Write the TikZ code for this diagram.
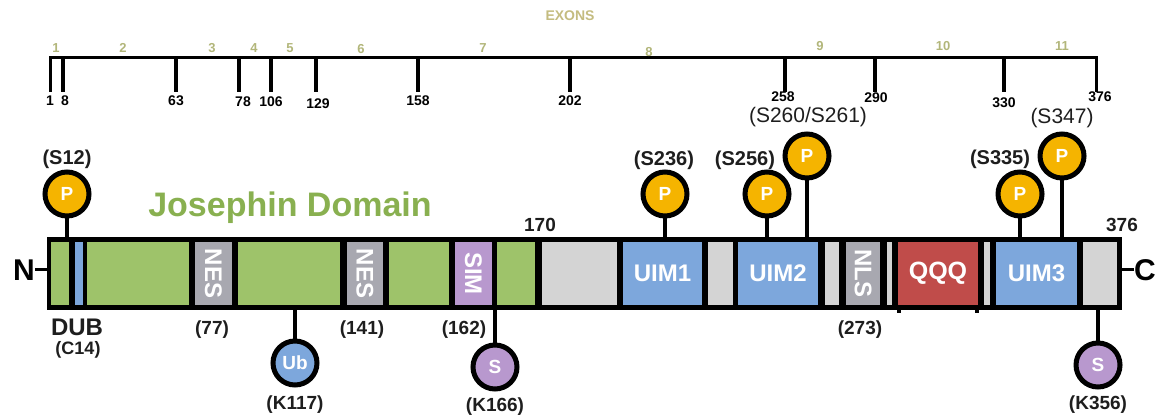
\documentclass[tikz,border=0pt]{standalone}
\usepackage{fontspec}
\setmainfont{Liberation Sans}
\newcommand\FS[1]{\fontsize{#1}{#1}\selectfont}
\definecolor{bargreen}{RGB}{158,195,106}
\definecolor{josgreen}{RGB}{137,176,80}
\definecolor{uimblue}{RGB}{125,167,220}
\definecolor{ltgray}{RGB}{212,212,212}
\definecolor{nesgray}{RGB}{168,168,176}
\definecolor{simpurple}{RGB}{184,152,206}
\definecolor{qqqred}{RGB}{192,76,74}
\definecolor{pgold}{RGB}{245,180,0}
\definecolor{exoncol}{RGB}{178,182,122}
\definecolor{exonscol}{RGB}{196,188,128}
\definecolor{txtdark}{RGB}{30,30,30}
\newcommand\Seg[4]{\node[segbox=#3, minimum width={#2-#1}] (#4) at ({(#1+#2)/2},273.5) {};}
\begin{document}
\begin{tikzpicture}[x=1pt,y=-1pt,
  segbox/.style={fill=#1, draw=none, minimum height=63pt, inner sep=0pt, outer sep=0pt},
  boxtxt/.style={text=white, font=\bfseries\FS{24}, inner sep=0pt},
  vtxt/.style={boxtxt, rotate=-90},
  site/.style={circle, draw=black, line width=5pt, fill=#1, minimum size=44pt, inner sep=0pt, text=white, font=\bfseries\FS{19}},
  stem/.style={line width=4.5pt, black},
  lab/.style={text=txtdark, font=\bfseries\FS{19}, inner sep=0pt},
  labr/.style={text=txtdark, font=\FS{21}, inner sep=0pt},
  ticklab/.style={text=black, font=\bfseries\FS{14}, inner sep=0pt},
  exonlab/.style={text=exoncol, font=\bfseries\FS{13}, inner sep=0pt},
  rulerline/.style={line width=3pt, black, line join=miter},
  tickline/.style={line width=3.5pt, black}
]
\useasboundingbox (0,0) rectangle (1158,419);

% ---- exon ruler ----
\node[text=exonscol, font=\bfseries\FS{14}, inner sep=0pt] (exons) at (570,16) {EXONS};
\coordinate (rL) at (50,58);
\coordinate (rR) at (1096,58);
\draw[rulerline] (50,92) -- (rL) -- (rR) -- (1096,92);
\foreach \x in {63,176,239,271,316,418,570,785,875,1004}
  \draw[tickline] (\x,58) -- (\x,92);
\foreach \x/\t/\y in {50/1/101, 65/8/101, 176/63/101, 243/78/102, 271/106/102, 318/129/104, 418/158/101, 570/202/101, 783/258/97, 876/290/98, 1004/330/103, 1100/376/97}
  \node[ticklab] (tl\t) at (\x,\y) {\t};
\foreach \x/\t/\y in {56/1/48, 123/2/48, 212/3/48, 254/4/48, 290/5/48, 361/6/49, 483/7/48, 649/8/52, 820/9/46, 943/10/46, 1062/11/46}
  \node[exonlab] (ex\t) at (\x,\y) {\t};

% ---- protein bar ----
\node[fill=black, minimum width=1075pt, minimum height=73pt, inner sep=0pt, outer sep=0pt] (bar) at (584.5,273.5) {};
\Seg{51}{69}{bargreen}{g1}
\Seg{75}{83}{uimblue}{dub}
\Seg{87}{189}{bargreen}{g2}
\Seg{195}{232}{nesgray}{nes1}
\Seg{238}{340}{bargreen}{g3}
\Seg{347}{383}{nesgray}{nes2}
\Seg{389}{449}{bargreen}{g4}
\Seg{455}{492}{simpurple}{sim}
\Seg{497}{535}{bargreen}{g5}
\Seg{542}{617}{ltgray}{y1}
\Seg{623}{702}{uimblue}{uim1}
\Seg{708}{733}{ltgray}{y2}
\Seg{738}{818}{uimblue}{uim2}
\Seg{825}{839}{ltgray}{y3}
\Seg{846}{880}{nesgray}{nls}
\Seg{887}{892}{ltgray}{y4}
\Seg{898}{978}{qqqred}{qqq}
\Seg{984}{990}{ltgray}{y5}
\Seg{996}{1077}{uimblue}{uim3}
\Seg{1083}{1117}{ltgray}{y6}
\fill[black] (897,310) rectangle (901,312.5);
\fill[black] (975,310) rectangle (979,312.5);

\node[vtxt] at (nes1) {NES};
\node[vtxt] at (nes2) {NES};
\node[vtxt] at (sim) {SIM};
\node[vtxt] at (nls) {NLS};
\node[boxtxt] at (uim1) {UIM1};
\node[boxtxt] at (uim2) {UIM2};
\node[boxtxt] at (uim3) {UIM3};
\node[boxtxt, font=\bfseries\FS{25}] at (qqq) {QQQ};

\node[text=josgreen, font=\bfseries\FS{34}, inner sep=0pt] (jos) at (290,208) {Josephin Domain};

% N and C termini
\node[font=\bfseries\FS{30}, inner sep=0pt] (nterm) at (24,270) {N};
\node[font=\bfseries\FS{30}, inner sep=0pt] (cterm) at (1145,270) {C};
\draw[line width=3pt] (nterm.east) -- (nterm.east -| bar.west);
\draw[line width=3pt] (cterm.west) -- (cterm.west -| bar.east);

\node[lab] (n170) at (540,225) {170};
\node[lab] (n376) at (1122,225) {376};

% ---- phosphorylation sites ----
\node[site=pgold] (p12) at (67,194) {P};
\node[site=pgold] (p236) at (665,194) {P};
\node[site=pgold] (p256) at (767,194) {P};
\node[site=pgold] (p260) at (807,156) {P};
\node[site=pgold] (p335) at (1020,194) {P};
\node[site=pgold] (p347) at (1062,156) {P};
\foreach \p in {p12,p236,p256,p260,p335,p347}
  \draw[stem] (\p.south) -- (\p.south |- bar.north);

\node[lab, font=\bfseries\FS{20}] (l12) at (67,159) {(S12)};
\node[lab, font=\bfseries\FS{20}] (l236) at (664,160) {(S236)};
\node[lab, font=\bfseries\FS{20}] (l256) at (745,160) {(S256)};
\node[labr] (l260) at (808,117) {(S260/S261)};
\node[lab, font=\bfseries\FS{20}] (l335) at (1000,159) {(S335)};
\node[labr] (l347) at (1062,118) {(S347)};

% ---- below the bar ----
\node[site=uimblue] (ub) at (295,363) {Ub};
\node[site=simpurple] (s166) at (495,367) {S};
\node[site=simpurple] (s356) at (1098,365) {S};
\foreach \p in {ub,s166,s356}
  \draw[stem] (\p.north) -- (\p.north |- bar.south);

\node[lab, font=\bfseries\FS{24}] (dubl) at (77,327) {DUB};
\node[lab, font=\bfseries\FS{18}] (c14) at (78,350) {(C14)};
\node[lab] (l77) at (212,330) {(77)};
\node[lab] (l141) at (362,330) {(141)};
\node[lab] (l162) at (464,330) {(162)};
\node[lab] (l273) at (860,330) {(273)};
\node[lab] (k117) at (295,405) {(K117)};
\node[lab] (k166) at (495,407) {(K166)};
\node[lab] (k356) at (1098,405) {(K356)};
\end{tikzpicture}
\end{document}
